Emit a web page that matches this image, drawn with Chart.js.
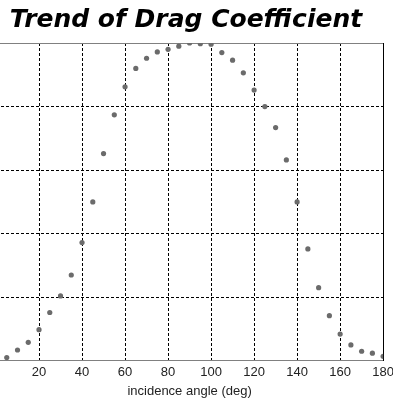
<!DOCTYPE html>
<html>
<head>
<meta charset="utf-8">
<script src="https://cdn.jsdelivr.net/npm/chart.js@4"></script>
<style>
  html, body { margin: 0; padding: 0; background: #fff; overflow: hidden; }
  #wrap { position: absolute; left: -20px; top: 0; width: 418px; height: 402px; }
</style>
</head>
<body>
<div id="wrap"><canvas id="dragChart"></canvas></div>
<script>
// --- DATA ---
const angles = [0, 5, 10, 15, 20, 25, 30, 35, 40, 45, 50, 55, 60, 65, 70, 75, 80, 85, 90,
                95, 100, 105, 110, 115, 120, 125, 130, 135, 140, 145, 150, 155, 160, 165, 170, 175, 180];
const dragCoeff = [0.00, 0.010, 0.034, 0.058, 0.098, 0.152, 0.204, 0.270, 0.372, 0.500, 0.652, 0.774, 0.862,
                   0.920, 0.952, 0.972, 0.980, 0.990, 1.000, 0.998, 0.996, 0.970, 0.946, 0.906, 0.852,
                   0.800, 0.734, 0.632, 0.500, 0.352, 0.230, 0.142, 0.084, 0.050, 0.030, 0.024, 0.014];
const xTickLabels = ['20', '40', '60', '80', '100', '120', '140', '160', '180'];

const points = angles.map((a, i) => ({ x: a, y: dragCoeff[i] }));

const gridStyle = { color: '#000', lineWidth: 1, drawTicks: false };

const ctx = document.getElementById('dragChart').getContext('2d');
const dragChart = new Chart(ctx, {
    type: 'scatter',
    data: {
        datasets: [{
            label: 'Cd',
            data: points,
            backgroundColor: '#6b6b6b',
            borderWidth: 0,
            pointRadius: 2.6
        }]
    },
    options: {
        responsive: true,
        maintainAspectRatio: false,
        animation: false,
        layout: { padding: { left: 7, right: 13, top: 0, bottom: 3 } },
        plugins: {
            legend: { display: false },
            tooltip: { enabled: false },
            title: {
                display: true,
                text: 'Trend of Drag Coefficient',
                color: '#000',
                font: { family: 'DejaVu Sans', size: 25, weight: 'bold', style: 'italic' },
                padding: { top: 5, bottom: 8 }
            }
        },
        scales: {
            x: {
                type: 'linear', min: 0, max: 180,
                border: { color: '#808080', width: 1, dash: [3, 2] },
                grid: gridStyle,
                ticks: {
                    stepSize: 20, padding: 4, color: '#222',
                    font: { family: 'Liberation Sans', size: 13 },
                    callback: v => xTickLabels.includes(String(v)) ? String(v) : ''
                },
                title: {
                    display: true, text: 'incidence angle (deg)', color: '#222',
                    font: { family: 'Liberation Sans', size: 13 }, padding: { top: -1, bottom: 0 }
                }
            },
            xTop: {
                type: 'linear', position: 'top', min: 0, max: 180,
                border: { color: '#808080', width: 1 },
                grid: { display: false, drawTicks: false },
                ticks: { display: false }
            },
            y: {
                min: 0, max: 1,
                border: { display: false, dash: [3, 2] },
                grid: gridStyle,
                ticks: { display: false, stepSize: 0.2 },
                afterFit: scale => { scale.width = 9; }
            },
            yRight: {
                position: 'right', min: 0, max: 1,
                border: { color: '#000', width: 1 },
                grid: { display: false, drawTicks: false },
                ticks: { display: false }
            }
        }
    }
});
</script>
</body>
</html>
